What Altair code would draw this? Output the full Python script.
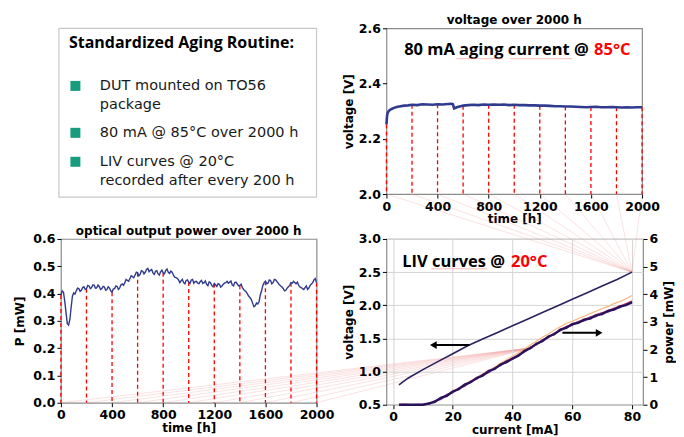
import altair as alt
import pandas as pd

# ---------------- data ----------------
volt_t = [0, 5, 10, 20, 40, 60, 80, 100, 140, 170,
          200, 240, 280, 320, 360, 400, 440, 480, 510, 520,
          530, 550, 580, 600,
          640, 680, 720, 760, 800, 840, 880, 920, 960, 1000,
          1040, 1080, 1120, 1160, 1200, 1240, 1280, 1320, 1360, 1400,
          1440, 1480, 1520, 1560, 1600, 1640, 1680, 1720, 1760, 1800,
          1840, 1880, 1920, 1960, 2000]
volt_v = [2.252, 2.284, 2.294, 2.302, 2.308, 2.312, 2.315, 2.317, 2.320, 2.321,
          2.323, 2.322, 2.325, 2.324, 2.323, 2.325, 2.324, 2.326, 2.327, 2.325,
          2.310, 2.314, 2.318, 2.320,
          2.322, 2.323, 2.322, 2.324, 2.323, 2.324, 2.323, 2.324, 2.322, 2.323,
          2.322, 2.322, 2.321, 2.321, 2.320, 2.320, 2.319, 2.318, 2.318, 2.317,
          2.317, 2.316, 2.315, 2.314, 2.315, 2.316, 2.314, 2.314, 2.315, 2.314,
          2.313, 2.314, 2.313, 2.314, 2.314]

power_t = list(range(0, 2001, 10))
power_p = [
    0.395, 0.410, 0.405, 0.372, 0.330, 0.290, 0.285, 0.305, 0.350, 0.390,
    0.402, 0.398, 0.410, 0.420, 0.418, 0.408, 0.412, 0.422, 0.425, 0.415,
    0.418, 0.430, 0.428, 0.418, 0.422, 0.432, 0.430, 0.420, 0.421, 0.431,
    0.426, 0.415, 0.418, 0.426, 0.424, 0.412, 0.415, 0.425, 0.420, 0.410,
    0.405, 0.417, 0.418, 0.428, 0.426, 0.415, 0.421, 0.432, 0.435, 0.430,
    0.440, 0.452, 0.448, 0.445, 0.455, 0.465, 0.462, 0.458, 0.468, 0.478,
    0.476, 0.465, 0.470, 0.484, 0.482, 0.472, 0.478, 0.488, 0.492, 0.480,
    0.485, 0.488, 0.476, 0.470, 0.482, 0.484, 0.472, 0.468, 0.480, 0.486,
    0.476, 0.472, 0.485, 0.490, 0.478, 0.474, 0.482, 0.478, 0.468, 0.460,
    0.458, 0.456, 0.450, 0.440, 0.446, 0.452, 0.440, 0.436, 0.448, 0.450,
    0.442, 0.437, 0.450, 0.452, 0.438, 0.444, 0.445, 0.438, 0.436, 0.444,
    0.448, 0.437, 0.440, 0.446, 0.434, 0.429, 0.443, 0.440, 0.430, 0.425,
    0.437, 0.432, 0.426, 0.436, 0.434, 0.424, 0.428, 0.434, 0.438, 0.440,
    0.445, 0.438, 0.442, 0.446, 0.432, 0.428, 0.440, 0.442, 0.435, 0.428,
    0.430, 0.434, 0.422, 0.415, 0.410, 0.406, 0.398, 0.390, 0.385, 0.378,
    0.365, 0.352, 0.355, 0.365, 0.362, 0.370, 0.395, 0.410, 0.430, 0.440,
    0.445, 0.436, 0.438, 0.450, 0.448, 0.436, 0.440, 0.452, 0.450, 0.444,
    0.438, 0.432, 0.428, 0.424, 0.418, 0.410, 0.412, 0.420, 0.425, 0.430,
    0.440, 0.438, 0.445, 0.440, 0.436, 0.442, 0.430, 0.424, 0.422, 0.418,
    0.415, 0.422, 0.428, 0.415, 0.420, 0.430, 0.435, 0.440, 0.450, 0.455,
    0.440]

dash_times = [0, 200, 400, 600, 800, 1000, 1200, 1400, 1600, 1800, 2000]

liv_v_i = [2, 5, 10, 15, 20, 25, 30, 35, 40, 45, 50, 55, 60, 65, 70, 75, 80]
liv_v_v = [0.80, 0.90, 1.03, 1.15, 1.27, 1.39, 1.49, 1.59, 1.69, 1.79, 1.89,
           1.99, 2.09, 2.19, 2.29, 2.39, 2.50]

liv_p_i = [2, 4, 6, 8, 10, 12, 14, 16, 18, 20, 22, 24, 26, 28, 30, 32, 34, 36, 38, 40,
           42, 44, 46, 48, 50, 52, 54, 56, 58, 60, 62, 64, 66, 68, 70, 72, 74, 76, 78, 80]
p_orange = [0, 0, 0.01, 0,
            0.0, 0.04, 0.13, 0.25, 0.37, 0.50, 0.61, 0.75, 0.86, 1.00,
            1.11, 1.25, 1.36, 1.50, 1.63, 1.76, 1.88, 2.02, 2.16, 2.30,
            2.44, 2.56, 2.70, 2.82, 2.95, 3.02, 3.12, 3.20, 3.30, 3.38,
            3.48, 3.56, 3.66, 3.74, 3.84, 3.95]
p_pink = [0.01, 0.02, 0, 0.01,
          0.01, 0.04, 0.11, 0.24, 0.33, 0.47, 0.57, 0.72, 0.82, 0.96,
          1.08, 1.20, 1.32, 1.45, 1.57, 1.70, 1.80, 1.94, 2.07, 2.20,
          2.33, 2.46, 2.58, 2.72, 2.83, 2.93, 3.01, 3.10, 3.17, 3.26,
          3.33, 3.42, 3.50, 3.58, 3.66, 3.76]
p_purple = [0, 0, 0, 0,
            0.0, 0.02, 0.14, 0.20, 0.36, 0.44, 0.60, 0.68, 0.85, 0.93,
            1.09, 1.17, 1.33, 1.42, 1.58, 1.66, 1.81, 1.91, 2.08, 2.17,
            2.34, 2.43, 2.59, 2.68, 2.82, 2.88, 3.00, 3.04, 3.16, 3.20,
            3.32, 3.36, 3.48, 3.52, 3.64, 3.68]
p_dark = [0, 0, 0, 0,
          0.0, 0.05, 0.10, 0.25, 0.32, 0.48, 0.56, 0.73, 0.81, 0.97,
          1.05, 1.22, 1.29, 1.46, 1.54, 1.67, 1.77, 1.95, 2.04, 2.21,
          2.30, 2.47, 2.55, 2.72, 2.78, 2.92, 2.96, 3.08, 3.12, 3.24,
          3.28, 3.40, 3.44, 3.56, 3.60, 3.72]

box_title = "Standardized Aging Routine:"
box_items = [["DUT mounted on TO56", "package"],
             ["80 mA @ 85°C over 2000 h"],
             ["LIV curves @ 20°C", "recorded after every 200 h"]]

# ---------------- style / layout ----------------
FONT = "DejaVu Sans"
TFONT = "Open Sans"
NAVY = "#303b8e"
RED = "#ff0000"
PINK = "#f08a8a"
TEAL = "#179c7d"
PW, PH = 256, 164
VW, VH = 256, 166
LW, LH = 257, 166
COL_GAP, ROW_GAP = 70, 45
I_DOM = [-2.2, 83.7]
LINE_H = 19

volt_lookup = dict(zip(volt_t, volt_v))
pow_lookup = dict(zip(power_t, power_p))

# ---------------- voltage chart ----------------
x_time = alt.X("t:Q", scale=alt.Scale(domain=[0, 2000], nice=False),
               axis=alt.Axis(values=[0, 400, 800, 1200, 1600, 2000], format="d", title="time [h]",
                             labelFlush=False, grid=False, titlePadding=1))
y_volt = alt.Y("v:Q", scale=alt.Scale(domain=[2.0, 2.6], nice=False, zero=False),
               axis=alt.Axis(values=[2.0, 2.2, 2.4, 2.6], format=".1f",
                             title="voltage [V]", grid=False, titlePadding=3))

vd = pd.DataFrame({"t": dash_times, "v": [volt_lookup[t] for t in dash_times], "b": 2.0})
v_rules = alt.Chart(vd).mark_rule(color=RED, strokeDash=[4, 3], strokeWidth=1.3).encode(
    x=x_time, y=y_volt, y2="b:Q")
v_line = alt.Chart(pd.DataFrame({"t": volt_t, "v": volt_v})).mark_line(
    color=NAVY, strokeWidth=2.6).encode(x=x_time, y=y_volt)
v_txt1 = alt.Chart(pd.DataFrame({"t": [1583], "v": [2.52], "s": ["80 mA aging current @"]})).mark_text(
    align="right", baseline="middle", font=TFONT, fontWeight="bold", fontSize=16.5, color="black"
).encode(x=x_time, y=y_volt, text="s:N")
v_txt2 = alt.Chart(pd.DataFrame({"t": [1625], "v": [2.52], "s": ["85°C"]})).mark_text(
    align="left", baseline="middle", font=TFONT, fontWeight="bold", fontSize=16.5, color=RED
).encode(x=x_time, y=y_volt, text="s:N")
v_ul = alt.Chart(pd.DataFrame({"t": [547, 968], "t2": [911, 1452], "v": [2.49, 2.49]})).mark_rule(
    color=PINK, strokeWidth=1, opacity=0.6).encode(x=x_time, x2="t2:Q", y=y_volt)
volt_chart = alt.layer(v_rules, v_line, v_txt1, v_txt2, v_ul).properties(
    width=VW, height=VH, title=alt.TitleParams("voltage over 2000 h"))

# ---------------- optical power chart ----------------
y_pow = alt.Y("p:Q", scale=alt.Scale(domain=[0, 0.6], nice=False),
              axis=alt.Axis(values=[0, 0.1, 0.2, 0.3, 0.4, 0.5, 0.6], format=".1f",
                            title="P [mW]", grid=False, titlePadding=6))
pd_ = pd.DataFrame({"t": dash_times, "p": [pow_lookup[t] for t in dash_times], "b": 0.0})
p_rules = alt.Chart(pd_).mark_rule(color=RED, strokeDash=[4, 3], strokeWidth=1.3).encode(
    x=x_time, y=y_pow, y2="b:Q")
p_line = alt.Chart(pd.DataFrame({"t": power_t, "p": power_p})).mark_line(
    color=NAVY, strokeWidth=1.4).encode(x=x_time, y=y_pow)

# connector fan: power-chart sample points -> LIV point (46.7 mA, 1.36 V)
liv_px_per_mA = LW / (I_DOM[1] - I_DOM[0])
conv_px = PW + COL_GAP + (46.7 - I_DOM[0]) * liv_px_per_mA
conv_t = conv_px * 2000 / PW
conv_p = (PH - (LH - (1.36 - 0.5) * LH / 2.5)) * 0.6 / PH
fan_lo = pd.DataFrame({
    "t": [v for t in dash_times for v in (t, conv_t)],
    "p": [v for t in dash_times for v in (0.0, conv_p)],
    "k": [t for t in dash_times for _ in (0, 1)]})
p_fan = alt.Chart(fan_lo).mark_line(color=PINK, strokeWidth=1, opacity=0.25).encode(
    x=x_time, y=y_pow, detail="k:N")
power_chart = alt.layer(p_fan, p_rules, p_line).properties(
    width=PW, height=PH, title=alt.TitleParams("optical output power over 2000 h"))

# ---------------- LIV chart ----------------
x_liv = alt.X("I:Q", scale=alt.Scale(domain=I_DOM, nice=False, zero=False),
              axis=alt.Axis(values=[0, 20, 40, 60, 80], title="current [mA]",
                            grid=True, labelFlush=False, titlePadding=1))
y_lv = alt.Y("V:Q", scale=alt.Scale(domain=[0.5, 3.0], nice=False, zero=False),
             axis=alt.Axis(values=[0.5, 1.0, 1.5, 2.0, 2.5, 3.0], format=".1f",
                           title="voltage [V]", grid=True, orient="left", titlePadding=3))
y_lp = alt.Y("P:Q", scale=alt.Scale(domain=[0, 6], nice=False),
             axis=alt.Axis(values=[0, 1, 2, 3, 4, 5, 6], title="power [mW]", grid=False,
                           orient="right", titleAngle=270, titleBaseline="top",
                           titlePadding=6))

# connector fan: voltage-chart sample points -> LIV (80 mA, 2.5 V)
v_top = 3.0 + ROW_GAP / (LH / 2.5)
fan_hi = pd.DataFrame({
    "I": [v for t in dash_times for v in (80.0, I_DOM[0] + VW * t / 2000 / liv_px_per_mA)],
    "V": [v for t in dash_times for v in (2.5, v_top)],
    "k": [t for t in dash_times for _ in (0, 1)]})
l_fan = alt.Chart(fan_hi).mark_line(color=PINK, strokeWidth=1, opacity=0.25).encode(
    x=x_liv, y=y_lv, detail="k:N")
l_vline = alt.Chart(pd.DataFrame({"I": liv_v_i, "V": liv_v_v})).mark_line(
    color="#2a2260", strokeWidth=1.6).encode(x=x_liv, y=y_lv)
arrows = pd.DataFrame({"I": [25.6, 56.7], "I2": [13.5, 69.0], "V": [1.40, 1.585]})
l_arr = alt.Chart(arrows).mark_rule(color="black", strokeWidth=2).encode(
    x=x_liv, x2="I2:Q", y=y_lv)
l_headL = alt.Chart(pd.DataFrame({"I": [13.5], "V": [1.40]})).mark_point(
    shape="triangle-left", filled=True, color="black", size=60, opacity=1).encode(x=x_liv, y=y_lv)
l_headR = alt.Chart(pd.DataFrame({"I": [69.0], "V": [1.585]})).mark_point(
    shape="triangle-right", filled=True, color="black", size=60, opacity=1).encode(x=x_liv, y=y_lv)
l_txt1 = alt.Chart(pd.DataFrame({"I": [37.5], "V": [2.65], "s": ["LIV curves @"]})).mark_text(
    align="right", baseline="middle", font=TFONT, fontWeight="bold", fontSize=16.5, color="black"
).encode(x=x_liv, y=y_lv, text="s:N")
l_txt2 = alt.Chart(pd.DataFrame({"I": [39.5], "V": [2.65], "s": ["20°C"]})).mark_text(
    align="left", baseline="middle", font=TFONT, fontWeight="bold", fontSize=16.5, color=RED
).encode(x=x_liv, y=y_lv, text="s:N")
l_ul = alt.Chart(pd.DataFrame({"I": [12.8], "I2": [31.6], "V": [2.55]})).mark_rule(
    color=PINK, strokeWidth=1, opacity=0.6).encode(x=x_liv, x2="I2:Q", y=y_lv)
left_group = alt.layer(l_fan, l_vline, l_arr, l_headL, l_headR, l_txt1, l_txt2, l_ul)

curves = [("#fbb274", p_orange, 1.1), ("#e8566a", p_pink, 1.3),
          ("#7b2a86", p_purple, 1.7), ("#27125c", p_dark, 2.3)]
right_layers = [
    alt.Chart(pd.DataFrame({"I": liv_p_i, "P": vals})).mark_line(
        color=c, strokeWidth=w).encode(x=x_liv, y=y_lp)
    for c, vals, w in curves]
right_group = alt.layer(*right_layers)
liv_chart = alt.layer(left_group, right_group).resolve_scale(y="independent").properties(
    width=LW, height=LH)

# ---------------- text box ----------------
dummy = pd.DataFrame({"a": [0]})
b_rect = alt.Chart(dummy).mark_rect(fill="white", stroke="#c8c8c8", strokeWidth=1.2).encode(
    x=alt.value(-2), x2=alt.value(256), y=alt.value(0), y2=alt.value(169))
b_title = alt.Chart(dummy).mark_text(
    align="left", baseline="middle", font=TFONT, fontWeight="bold", fontSize=16, color="black",
    text=box_title).encode(x=alt.value(8), y=alt.value(14.5))
item_first_y = [57.7, 104.7, 133.7]
b_items = [alt.Chart(dummy).mark_text(
    align="left", baseline="middle", font=FONT, fontSize=14.5, color="#1a1a1a",
    text=lines, lineHeight=LINE_H
).encode(x=alt.value(39), y=alt.value(y0))
    for lines, y0 in zip(box_items, item_first_y)]
b_bul = [alt.Chart(dummy).mark_square(size=100, color=TEAL, opacity=1).encode(
    x=alt.value(14.5), y=alt.value(y)) for y in item_first_y]
box_chart = alt.layer(b_rect, b_title, *b_items, *b_bul).properties(
    width=256, height=166, view=alt.ViewBackground(stroke="transparent"))

# ---------------- assemble ----------------
chart = alt.concat(box_chart, volt_chart, power_chart, liv_chart, columns=2,
                   spacing={"row": ROW_GAP, "column": COL_GAP}, bounds="flush", align="each"
).properties(
    padding={"left": 5, "top": 5, "right": 0, "bottom": 0}
).configure_view(stroke="#8c8c8c", strokeWidth=1.2).configure_axis(
    labelFont=FONT, labelFontWeight="bold", labelFontSize=12.5, labelColor="black",
    titleFont=FONT, titleFontWeight="bold", titleFontSize=12, titleColor="black",
    domain=False, tickColor="black", tickSize=4, labelPadding=2, gridColor="#d4d4d4",
    labelOverlap=False
).configure_title(font=FONT, fontSize=12, fontWeight="bold", offset=-5, color="black")

chart.save("out.html", embed_options={"renderer": "svg", "actions": False})
